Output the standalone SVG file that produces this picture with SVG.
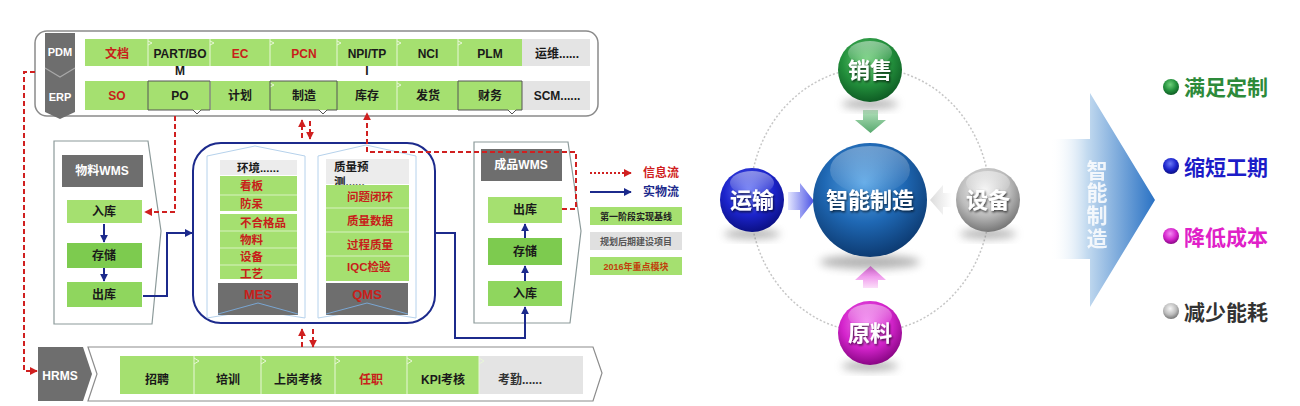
<svg xmlns="http://www.w3.org/2000/svg" width="1300" height="406" viewBox="0 0 1300 406">
<defs>
<style>
text{font-family:'Liberation Sans','Noto Sans CJK SC',sans-serif;font-weight:bold}
.c{text-anchor:middle}
.t12{font-size:12px}
.t11{font-size:11.5px}
.red{fill:#c8201a}
.blk{fill:#1a1a1a}
.wht{fill:#ffffff}
.g1{fill:#a5e070}
.g2{fill:#7dcb4f}
.g3{fill:#8fd65e}
.gr{fill:#e4e4e4}
.dg{fill:#6e6e6e}
.sep{stroke:#e8f7d8;stroke-width:1;fill:none}
.out{fill:#fff;stroke:#8c9a9a;stroke-width:1.2}
.col{fill:#fff;stroke:#b6d2ec;stroke-width:1}
.rd{fill:none;stroke:#d02020;stroke-width:2;stroke-dasharray:5 3}
.bl{fill:none;stroke:#1c2a8c;stroke-width:2}
.cbox{fill:none;stroke:#555;stroke-width:1}
.big{font-size:22px;fill:#fff}
.res{font-size:21px}
</style>
<marker id="ar" viewBox="0 0 10 10" refX="9" refY="5" markerWidth="8" markerHeight="8" markerUnits="userSpaceOnUse" orient="auto"><path d="M0,0 L10,5 L0,10 Z" fill="#d02020"/></marker>
<marker id="ab" viewBox="0 0 10 10" refX="9" refY="5" markerWidth="8" markerHeight="8" markerUnits="userSpaceOnUse" orient="auto"><path d="M0,0 L10,5 L0,10 Z" fill="#1c2a8c"/></marker>
<radialGradient id="sBlue" cx="0.45" cy="0.35" r="0.7"><stop offset="0" stop-color="#5aa6e6"/><stop offset="0.5" stop-color="#1f68b4"/><stop offset="1" stop-color="#0a3468"/></radialGradient>
<radialGradient id="sGreen" cx="0.45" cy="0.35" r="0.7"><stop offset="0" stop-color="#6fd07a"/><stop offset="0.55" stop-color="#23903c"/><stop offset="1" stop-color="#0b5420"/></radialGradient>
<radialGradient id="sNavy" cx="0.45" cy="0.35" r="0.7"><stop offset="0" stop-color="#6a78f6"/><stop offset="0.55" stop-color="#1c24cc"/><stop offset="1" stop-color="#080c78"/></radialGradient>
<radialGradient id="sGray" cx="0.45" cy="0.35" r="0.7"><stop offset="0" stop-color="#f6f6f6"/><stop offset="0.55" stop-color="#bdbdbd"/><stop offset="1" stop-color="#6a6a6a"/></radialGradient>
<radialGradient id="sMag" cx="0.45" cy="0.35" r="0.7"><stop offset="0" stop-color="#f48af2"/><stop offset="0.55" stop-color="#d424cc"/><stop offset="1" stop-color="#7c0078"/></radialGradient>
<linearGradient id="gloss" x1="0" y1="0" x2="0" y2="1"><stop offset="0" stop-color="#fff" stop-opacity="0.75"/><stop offset="1" stop-color="#fff" stop-opacity="0.05"/></linearGradient>
<linearGradient id="bigArrow" x1="0" y1="0" x2="1" y2="0"><stop offset="0" stop-color="#ffffff" stop-opacity="0"/><stop offset="0.35" stop-color="#c4dbf0"/><stop offset="1" stop-color="#2a72c4"/></linearGradient>
<linearGradient id="aGreen" x1="0" y1="0" x2="0" y2="1"><stop offset="0" stop-color="#a6dcb0"/><stop offset="1" stop-color="#3a9a55"/></linearGradient>
<linearGradient id="aBlue" x1="0" y1="0" x2="1" y2="0"><stop offset="0" stop-color="#dfe2ff"/><stop offset="1" stop-color="#2a34e0"/></linearGradient>
<linearGradient id="aGray" x1="1" y1="0" x2="0" y2="0"><stop offset="0" stop-color="#ffffff"/><stop offset="1" stop-color="#d8d8d8"/></linearGradient>
<linearGradient id="aMag" x1="0" y1="1" x2="0" y2="0"><stop offset="0" stop-color="#fbd8f8"/><stop offset="1" stop-color="#e040dc"/></linearGradient>
<filter id="blur" x="-50%" y="-50%" width="200%" height="200%"><feGaussianBlur stdDeviation="4"/></filter>
<filter id="ts" x="-20%" y="-20%" width="140%" height="160%"><feDropShadow dx="1" dy="1.5" stdDeviation="1" flood-color="#000" flood-opacity="0.7"/></filter>
</defs>
<rect width="1300" height="406" fill="#ffffff"/>

<!-- PDM / ERP system bar -->
<g id="pdm-erp">
<rect x="35" y="31" width="563" height="85" rx="12" fill="#fff" stroke="#8a8a8a" stroke-width="1.5"/>
<path d="M45,33 L75,33 L75,112 L60,119 L45,112 Z" class="dg"/>
<polyline points="45,68 60,77 75,68" fill="none" stroke="#a8a8a8" stroke-width="1.2"/>
<text x="60" y="56" class="c wht" font-size="11">PDM</text>
<text x="60" y="101" class="c wht" font-size="11">ERP</text>
<rect x="85" y="39" width="437" height="27" class="g1"/>
<rect x="522" y="39" width="68" height="27" class="gr"/>
<path d="M148,39 V66 M210,39 V66 M270,39 V66 M337,39 V66 M397,39 V66 M458,39 V66 M148,41 l4,2 l-4,2 M210,41 l4,2 l-4,2 M270,41 l4,2 l-4,2 M337,41 l4,2 l-4,2 M397,41 l4,2 l-4,2 M458,41 l4,2 l-4,2" class="sep"/>
<text x="117" y="58" class="c t12 red">文档</text>
<text x="180" y="58" class="c t12 blk">PART/BO</text>
<text x="180" y="75" class="c t12 blk">M</text>
<text x="240" y="58" class="c t12 red">EC</text>
<text x="304" y="58" class="c t12 red">PCN</text>
<text x="367" y="58" class="c t12 blk">NPI/TP</text>
<text x="367" y="75" class="c t12 blk">I</text>
<text x="428" y="58" class="c t12 blk">NCI</text>
<text x="490" y="58" class="c t12 blk">PLM</text>
<text x="557" y="58" class="c t12 blk">运维......</text>
<rect x="85" y="81" width="437" height="29" class="g1"/>
<rect x="522" y="81" width="68" height="29" class="gr"/>
<path d="M210,81 V110 M397,81 V110 M397,83 l4,2 l-4,2 M270,83 l4,2 l-4,2" class="sep"/>
<path d="M148,81 H210 V110 H201 L197,114 L193,110 H148 Z" class="cbox"/>
<path d="M270,81 H337 V110 H327 L323,114 L319,110 H270 Z" class="cbox"/>
<path d="M458,81 H522 V110 H516 L512,114 L508,110 H458 Z" class="cbox"/>
<text x="117" y="100" class="c t12 red">SO</text>
<text x="180" y="100" class="c t12 blk">PO</text>
<text x="240" y="100" class="c t12 blk">计划</text>
<text x="304" y="100" class="c t12 blk">制造</text>
<text x="367" y="100" class="c t12 blk">库存</text>
<text x="428" y="100" class="c t12 blk">发货</text>
<text x="490" y="100" class="c t12 blk">财务</text>
<text x="557" y="100" class="c t12 blk">SCM......</text>
</g>

<g id="wms-material">
<path d="M54,141 L148,141 L161,231 L152,324 L54,324 Z" class="out"/>
<rect x="62" y="155" width="81" height="32" class="dg"/>
<text x="102" y="175" class="c t12 wht">物料WMS</text>
<rect x="67" y="200" width="75" height="23" class="g1"/>
<text x="104" y="216" class="c t12 blk">入库</text>
<rect x="67" y="243" width="75" height="25" class="g2"/>
<text x="104" y="260" class="c t12 blk">存储</text>
<rect x="67" y="282" width="75" height="25" class="g3"/>
<text x="104" y="299" class="c t12 blk">出库</text>
</g>

<g id="mes-qms">
<rect x="193" y="143" width="242" height="180" rx="28" fill="#fff" stroke="#1c2a8c" stroke-width="2"/>
<path d="M207,156 L255,146 L305,156 L305,318 L255,310 L207,318 Z" class="col"/>
<path d="M318,156 L366,145 L416,156 L416,318 L366,310 L318,318 Z" class="col"/>
</g>
<g id="mes">
<rect x="220" y="160" width="77" height="15" fill="#ececec"/>
<text x="258" y="172" class="c t11 blk">环境......</text>
<rect x="220" y="176" width="77" height="35" class="g1"/>
<rect x="220" y="214" width="77" height="65" class="g1"/>
<path d="M220,195 H297 M220,231 H297 M220,248 H297 M220,265 H297" stroke="#d8f2c0" stroke-width="1" fill="none"/>
<text x="240" y="190" class="t11 red">看板</text>
<text x="240" y="208" class="t11 red">防呆</text>
<text x="240" y="227" class="t11 red">不合格品</text>
<text x="240" y="244" class="t11 red">物料</text>
<text x="240" y="261" class="t11 red">设备</text>
<text x="240" y="278" class="t11 red">工艺</text>
<rect x="218" y="283" width="80" height="32" class="dg"/>
<polyline points="218,314 258,303 298,314" fill="none" stroke="#7aa6d2" stroke-width="1"/>
<text x="258" y="299" class="c red" font-size="13">MES</text>
</g>
<g id="qms">
<rect x="326" y="159" width="83" height="25" fill="#ececec"/>
<text x="334" y="171" class="t11 blk">质量预</text>
<text x="334" y="186" class="t11 blk">测......</text>
<rect x="326" y="185" width="83" height="96" class="g1"/>
<path d="M326,208 H409 M326,232 H409 M326,256 H409" stroke="#d8f2c0" stroke-width="1" fill="none"/>
<text x="347" y="201" class="t11 red">问题闭环</text>
<text x="347" y="225" class="t11 red">质量数据</text>
<text x="347" y="249" class="t11 red">过程质量</text>
<text x="347" y="271" class="t11 red">IQC检验</text>
<rect x="326" y="283" width="82" height="32" class="dg"/>
<polyline points="326,314 367,303 408,314" fill="none" stroke="#7aa6d2" stroke-width="1"/>
<text x="367" y="299" class="c red" font-size="13">QMS</text>
</g>

<g id="wms-product">
<path d="M474,142 L568,142 L581,231 L570,323 L474,323 Z" class="out"/>
<rect x="481" y="149" width="81" height="32" class="dg"/>
<text x="521" y="169" class="c t12 wht">成品WMS</text>
<rect x="488" y="197" width="74" height="26" class="g1"/>
<text x="525" y="214" class="c t12 blk">出库</text>
<rect x="488" y="238" width="74" height="27" class="g2"/>
<text x="525" y="256" class="c t12 blk">存储</text>
<rect x="488" y="281" width="74" height="25" class="g3"/>
<text x="525" y="298" class="c t12 blk">入库</text>
</g>

<g id="hrms">
<path d="M88,347 L593,347 L602,373 L593,401 L88,401 L97,374 Z" fill="#fff" stroke="#8c8c8c" stroke-width="1.2"/>
<path d="M38,347 L83,347 L92,374 L83,401 L38,401 Z" class="dg"/>
<text x="60" y="380" class="c t12 wht">HRMS</text>
<rect x="120" y="356" width="359" height="38" class="g1"/>
<rect x="479" y="356" width="104" height="38" class="gr"/>
<path d="M194,356 V394 M261,356 V394 M335,356 V394 M407,356 V394 M479,356 V394 M194,358 l5,3 l-5,3 M261,358 l5,3 l-5,3 M335,358 l5,3 l-5,3 M407,358 l5,3 l-5,3 M479,358 l5,3 l-5,3" class="sep"/>
<text x="157" y="384" class="c t12 blk">招聘</text>
<text x="228" y="384" class="c t12 blk">培训</text>
<text x="298" y="384" class="c t12 blk">上岗考核</text>
<text x="371" y="384" class="c t12 red">任职</text>
<text x="443" y="384" class="c t12 blk">KPI考核</text>
<text x="520" y="384" class="c t12" fill="#333">考勤......</text>
</g>

<g id="legend">
<line x1="590" y1="173" x2="631" y2="173" stroke="#d02020" stroke-width="2" stroke-dasharray="2 2" marker-end="url(#ar)"/>
<text x="643" y="177" font-size="12" fill="#d02020">信息流</text>
<line x1="590" y1="192" x2="631" y2="192" class="bl" marker-end="url(#ab)"/>
<text x="643" y="196" font-size="12" fill="#1c2a8c">实物流</text>
<rect x="590" y="207" width="92" height="18" class="g1"/>
<text x="636" y="219.5" class="c" font-size="9" fill="#222">第一阶段实现基线</text>
<rect x="590" y="232" width="92" height="18" fill="#e0e0e0"/>
<text x="636" y="244.5" class="c" font-size="9" fill="#555" font-weight="normal">规划后期建设项目</text>
<rect x="590" y="257" width="92" height="18" class="g1"/>
<text x="636" y="269.5" class="c" font-size="9" fill="#c0400c">2016年重点模块</text>
</g>

<g id="connectors">
<path d="M175,116 L175,212 L145,212" class="rd" marker-end="url(#ar)"/>
<path d="M562,209 L576,209 L576,152 L367,152 L367,113" class="rd" marker-end="url(#ar)"/>
<path d="M35,72 L24,72 L24,371 L37,371" class="rd" marker-end="url(#ar)"/>
<path d="M302,138 L302,120" class="rd" marker-end="url(#ar)"/>
<path d="M310,121 L310,139" class="rd" marker-end="url(#ar)"/>
<path d="M302,347 L302,329" class="rd" marker-end="url(#ar)"/>
<path d="M313,329 L313,347" class="rd" marker-end="url(#ar)"/>
<path d="M143,296 L167,296 L167,233 L192,233" class="bl" marker-end="url(#ab)"/>
<path d="M435,233 L455,233 L455,338 L525,338 L525,307" class="bl" marker-end="url(#ab)"/>
<path d="M104,224 L104,242" class="bl" marker-end="url(#ab)"/>
<path d="M104,268 L104,281" class="bl" marker-end="url(#ab)"/>
<path d="M525,281 L525,266" class="bl" marker-end="url(#ab)"/>
<path d="M525,238 L525,224" class="bl" marker-end="url(#ab)"/>
</g>

<g id="ring">
<ellipse cx="870" cy="200" rx="120" ry="132" fill="none" stroke="#c6c6c6" stroke-width="1.5" stroke-dasharray="2 2"/>
</g>
<g id="arrows-center">
<path d="M863,110 H878 V120 H886 L870.5,133 L855,120 H863 Z" fill="url(#aGreen)" opacity="0.85"/>
<path d="M788,192 H800 V183 L814,201 L800,219 V210 H788 Z" fill="url(#aBlue)" opacity="0.85"/>
<path d="M952,193 H943 V185 L930,200 L943,215 V207 H952 Z" fill="url(#aGray)" opacity="0.9"/>
<path d="M863,288 H878 V280 H886 L870.5,266 L855,280 H863 Z" fill="url(#aMag)" opacity="0.85"/>
</g>
<g id="node-center">
<ellipse cx="870" cy="262" rx="50" ry="7" fill="#777" opacity="0.55" filter="url(#blur)"/>
<circle cx="870" cy="200" r="57" fill="url(#sBlue)"/>
<ellipse cx="870" cy="170" rx="40" ry="24" fill="url(#gloss)" opacity="0.45"/>
<text x="870" y="208" class="c big" filter="url(#ts)">智能制造</text>
</g>
<g id="node-sales">
<ellipse cx="870" cy="104" rx="28" ry="5" fill="#777" opacity="0.55" filter="url(#blur)"/>
<circle cx="870" cy="70" r="32" fill="url(#sGreen)"/>
<ellipse cx="870" cy="53" rx="22" ry="12" fill="url(#gloss)" opacity="0.6"/>
<text x="870" y="78" class="c big" filter="url(#ts)">销售</text>
</g>
<g id="node-transport">
<ellipse cx="752" cy="234" rx="28" ry="5" fill="#777" opacity="0.55" filter="url(#blur)"/>
<circle cx="752" cy="200" r="32" fill="url(#sNavy)"/>
<ellipse cx="752" cy="183" rx="22" ry="12" fill="url(#gloss)" opacity="0.6"/>
<text x="752" y="208" class="c big" filter="url(#ts)">运输</text>
</g>
<g id="node-equipment">
<ellipse cx="988" cy="234" rx="28" ry="5" fill="#777" opacity="0.55" filter="url(#blur)"/>
<circle cx="988" cy="200" r="32" fill="url(#sGray)"/>
<ellipse cx="988" cy="183" rx="22" ry="12" fill="url(#gloss)" opacity="0.6"/>
<text x="988" y="208" class="c big" filter="url(#ts)">设备</text>
</g>
<g id="node-material">
<ellipse cx="870" cy="366" rx="28" ry="5" fill="#777" opacity="0.55" filter="url(#blur)"/>
<circle cx="870" cy="333" r="32" fill="url(#sMag)"/>
<ellipse cx="870" cy="316" rx="22" ry="12" fill="url(#gloss)" opacity="0.6"/>
<text x="870" y="341" class="c big" filter="url(#ts)">原料</text>
</g>

<g id="result-arrow">
<path d="M1050,139 L1090,139 L1090,93 L1155,200 L1090,307 L1090,259 L1050,259 Z" fill="url(#bigArrow)"/>
<g class="c" font-size="21" fill="#ffffff" opacity="0.85">
<text x="1097" y="178">智</text>
<text x="1097" y="200">能</text>
<text x="1097" y="223">制</text>
<text x="1097" y="246">造</text>
</g>
</g>
<g id="results">
<circle cx="1171" cy="87" r="8" fill="url(#sGreen)"/>
<text x="1184" y="95" class="res" fill="#2d8a3a">满足定制</text>
<circle cx="1171" cy="166" r="8" fill="url(#sNavy)"/>
<text x="1184" y="175" class="res" fill="#1c1cc8">缩短工期</text>
<circle cx="1171" cy="236" r="8" fill="url(#sMag)"/>
<text x="1184" y="245" class="res" fill="#e020c8">降低成本</text>
<circle cx="1171" cy="311" r="8" fill="url(#sGray)"/>
<text x="1184" y="320" class="res" fill="#333333">减少能耗</text>
</g>
</svg>
